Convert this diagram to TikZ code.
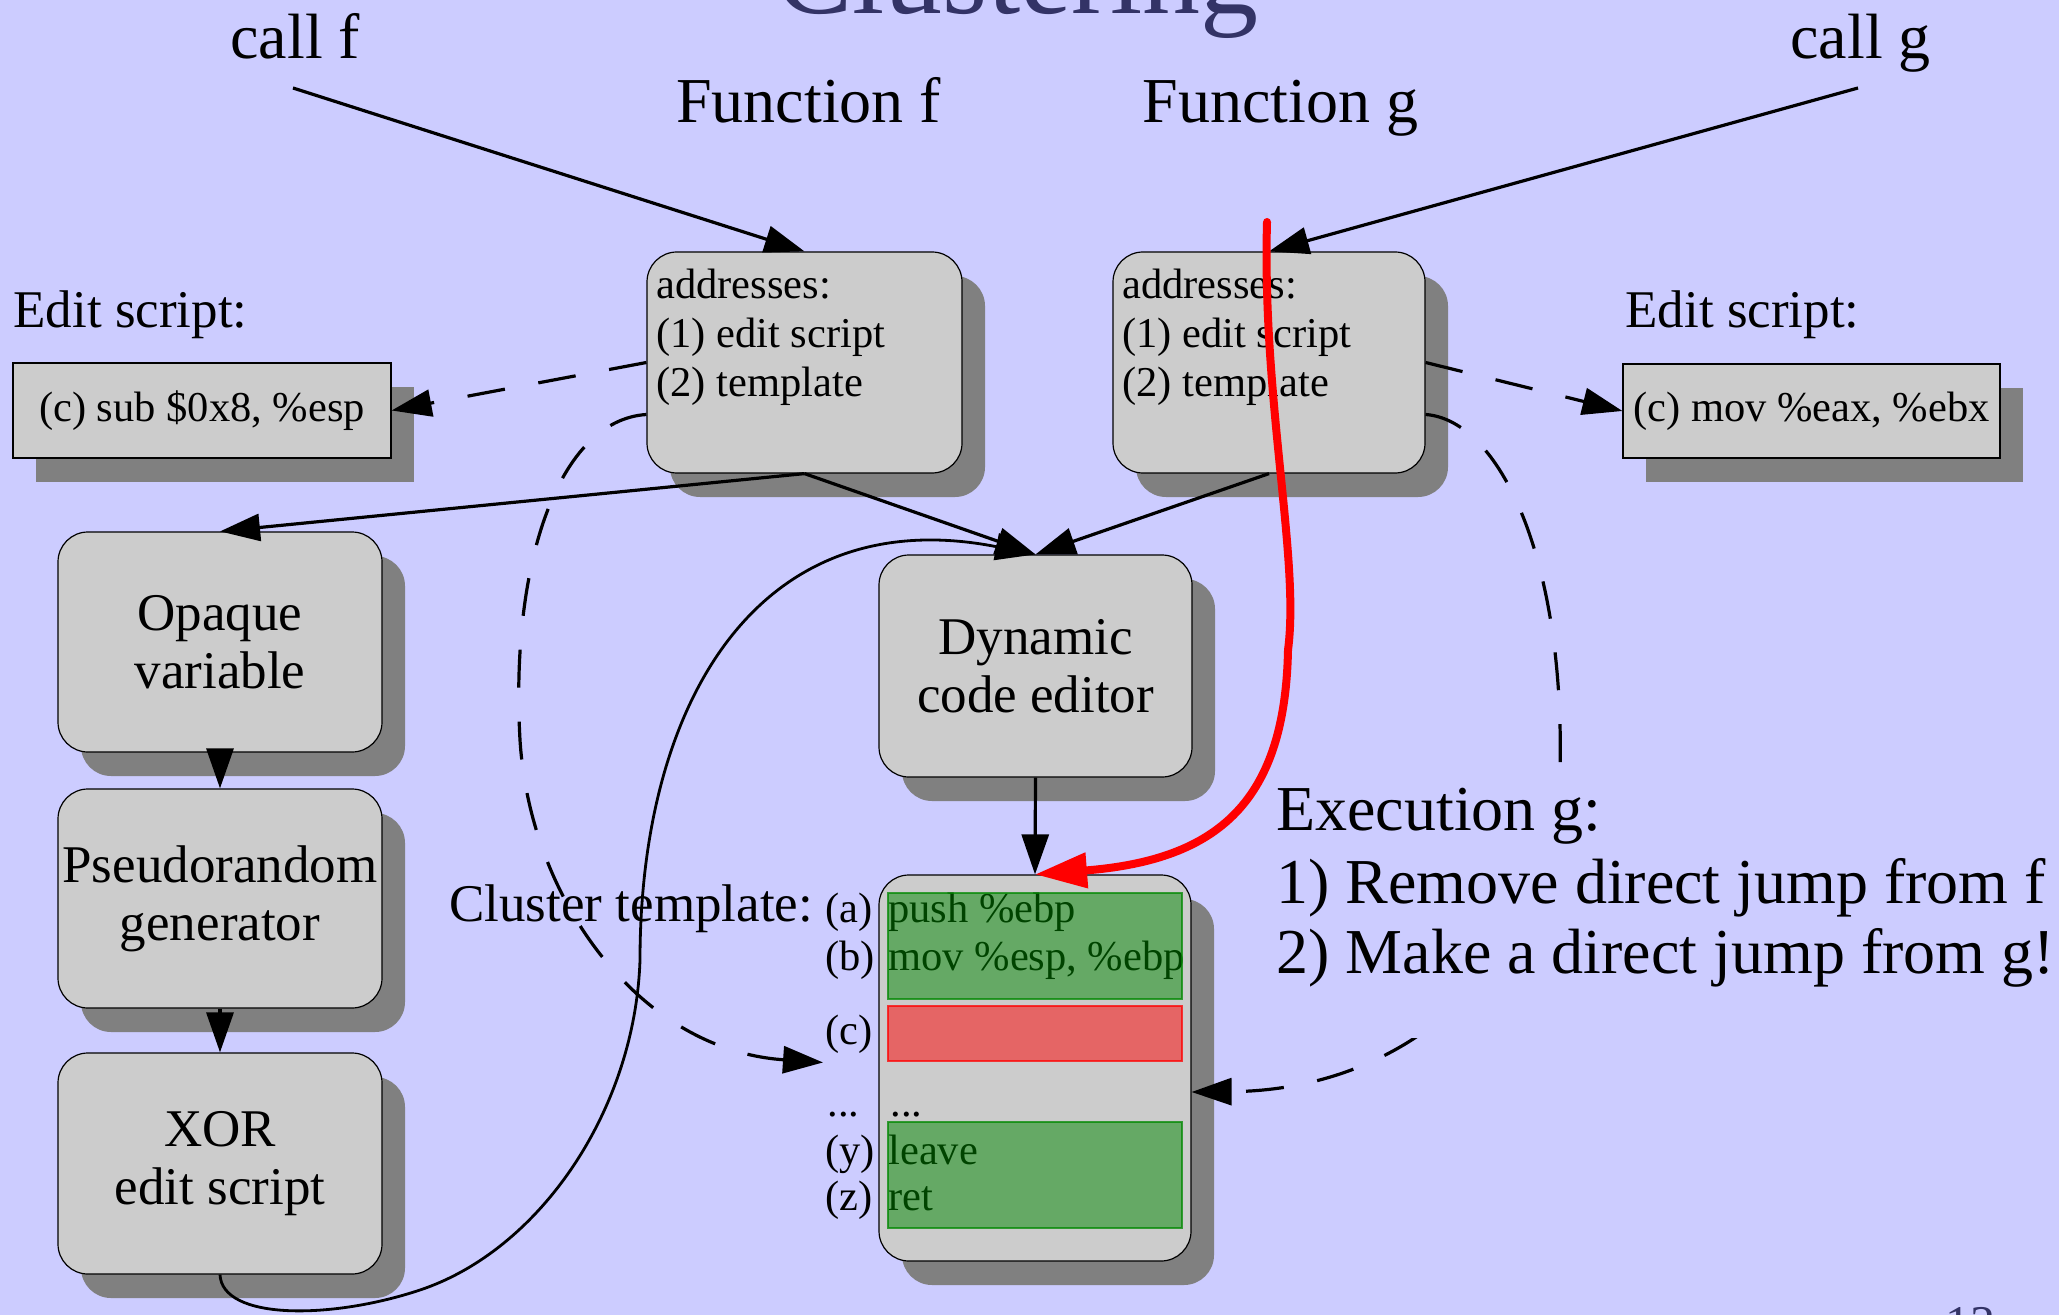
\documentclass[tikz,border=0pt]{standalone}
\usepackage{fontspec}
\setmainfont{Liberation Serif}
\usetikzlibrary{arrows.meta,shadows,calc}

\definecolor{slidebg}{HTML}{CCCCFF}
\definecolor{boxgray}{HTML}{CCCCCC}
\definecolor{shadowgray}{HTML}{808080}
\definecolor{titleblue}{HTML}{333366}
\definecolor{keepgreen}{HTML}{008800}
\definecolor{dropred}{HTML}{FF0000}

\tikzset{
  big/.style={font=\fontsize{32pt}{38pt}\selectfont},
  mid/.style={font=\fontsize{26.5pt}{29pt}\selectfont},
  small/.style={font=\fontsize{21.25pt}{24pt}\selectfont},
  lbl/.style={inner sep=0pt, anchor=base west},
  shade/.style={drop shadow={shadow xshift=11.5pt, shadow yshift=-12pt,
                fill=shadowgray, opacity=1}},
  rbox/.style={draw=black, line width=0.6pt, fill=boxgray,
               rounded corners=15pt, shade, inner sep=0pt},
  ebox/.style={draw=black, line width=0.6pt, fill=boxgray, shade, inner sep=0pt},
  arr/.style={line width=1.6pt, -{Triangle[length=20pt,width=13.5pt]}},
  dsh/.style={arr, dash pattern=on 19pt off 17pt},
  redarr/.style={line width=4pt, draw=dropred, line cap=round,
                 -{Triangle[length=26pt,width=17pt,fill=dropred]}},
  keep/.style={fill=keepgreen, fill opacity=0.5, draw=keepgreen,
               draw opacity=0.75, line width=0.8pt},
  drop/.style={fill=dropred, fill opacity=0.5, draw=dropred,
               draw opacity=0.75, line width=0.8pt},
}

\begin{document}
\begin{tikzpicture}[x=0.5pt,y=-0.5pt]
  % slide background
  \fill[slidebg] (0,0) rectangle (2059,1315);
  \useasboundingbox (0,0) rectangle (2059,1315);

  % title and page number
  \node[inner sep=0pt, anchor=base, text=titleblue,
        font=\fontsize{58pt}{60pt}\selectfont] (title) at (1017,14) {Clustering};
  \node[inner sep=0pt, anchor=north west, text=titleblue,
        font=\fontsize{25pt}{28pt}\selectfont] (pagenum) at (1945,1307) {13};

  % call sites and function names
  \node[lbl,big] (callf) at (230,59) {call f};
  \node[lbl,big] (callg) at (1790,59) {call g};
  \node[lbl,big] (funf) at (676,123) {Function f};
  \node[lbl,big] (fung) at (1142,123) {Function g};
  \coordinate (cf) at (293,88);
  \coordinate (cg) at (1858,88);

  % edit scripts
  \node[lbl,mid] (editl) at (13,328) {Edit script:};
  \node[lbl,mid] (editr) at (1625,328) {Edit script:};
  \node[ebox,small,minimum width=189pt,minimum height=47.5pt] (ebl) at (202,410.5)
       {(c) sub \$0x8, \%esp};
  \node[ebox,small,minimum width=188.5pt,minimum height=47pt] (ebr) at (1811.5,411)
       {(c) mov \%eax, \%ebx};

  % function entry boxes
  \node[rbox,minimum width=157.5pt,minimum height=110.5pt] (bf) at (804.5,362.5) {};
  \node[rbox,minimum width=156pt,minimum height=110.5pt] (bg) at (1269,362.5) {};
  \node[lbl,small] (bf1) at (656,299) {addresses:};
  \node[lbl,small] (bf2) at (656,348) {(1) edit script};
  \node[lbl,small] (bf3) at (656,397) {(2) template};
  \node[lbl,small] (bg1) at (1122,299) {addresses:};
  \node[lbl,small] (bg2) at (1122,348) {(1) edit script};
  \node[lbl,small] (bg3) at (1122,397) {(2) template};

  % decoding pipeline
  \node[rbox,mid,align=center,minimum width=162pt,minimum height=110pt] (opq) at (220,642)
       {Opaque\\variable};
  \node[rbox,mid,align=center,minimum width=162pt,minimum height=109.5pt] (prg) at (220,898.5)
       {Pseudorandom\\generator};
  \node[rbox,mid,align=center,minimum width=162pt,minimum height=110.5pt] (xor) at (220,1163.5)
       {XOR\\edit script};
  \node[rbox,mid,align=center,minimum width=156.5pt,minimum height=111pt] (dyn) at (1035.5,666)
       {Dynamic\\code editor};

  % cluster template
  \node[rbox,minimum width=156pt,minimum height=193pt] (cl) at (1035,1068) {};
  \node[lbl,mid] (clt) at (449,921) {Cluster template:};
  \node[lbl,small] (la) at (825,922) {(a)};
  \node[lbl,small] (lb) at (825,970) {(b)};
  \node[lbl,small] (lc) at (825,1044) {(c)};
  \node[lbl,small] (ld) at (827,1116) {...};
  \node[lbl,small] (ly) at (825,1164) {(y)};
  \node[lbl,small] (lz) at (825,1210) {(z)};
  \node[lbl,small] (ca) at (888,922) {push \%ebp};
  \node[lbl,small] (cb) at (888,970) {mov \%esp, \%ebp};
  \node[lbl,small] (cd) at (890,1116) {...};
  \node[lbl,small] (cy) at (888,1164) {leave};
  \node[lbl,small] (cz) at (888,1210) {ret};
  \draw[keep] (888,893) rectangle (1182,999);
  \draw[drop] (888,1006) rectangle (1182,1061);
  \draw[keep] (888,1122) rectangle (1182,1228);

  % control flow
  \draw[arr] (cf) -- (bf.north);
  \draw[arr] (cg) -- (bg.north);
  \draw[arr] (bf.south) -- (opq.north);
  \draw[arr] (bf.south) -- (dyn.north);
  \draw[arr] (bg.south) -- (dyn.north);
  \draw[arr] (opq.south) -- (prg.north);
  \draw[arr] (prg.south) -- (xor.north);
  \draw[arr] (dyn.south) -- (cl.north);
  \draw[arr, line width=1.4pt] (xor.south)
      .. controls (222,1320) and (330,1320) .. (420,1290)
      .. controls (540,1250) and (635,1110) .. (640,960)
      .. controls (640,700) and (760,500) .. (dyn.north);

  % address lookups
  \draw[dsh] (bf.west) -- (ebl.east);
  \draw[dsh] (bg.east) -- (ebr.west);
  \draw[dsh] ($(bf.west)+(0,52)$)
      .. controls (560,420) and (510,560) .. (520,740)
      .. controls (530,900) and (640,1050) .. ($(lc.south west)+(-2,9)$);
  \draw[dsh] ($(bg.east)+(0,52)$)
      .. controls (1500,420) and (1565,560) .. (1560,770)
      .. controls (1555,950) and (1420,1090) .. ($(cl.east)+(0,24)$);

  % execution notes
  \node[fill=slidebg, inner sep=0pt, minimum width=395.5pt, minimum height=133pt,
        anchor=north west] (execframe) at (1268,772) {};
  \node[lbl,big] (ex1) at (1276,830) {Execution g:};
  \node[lbl,big] (ex2) at (1276,903) {1) Remove direct jump from f};
  \node[lbl,big] (ex3) at (1276,973) {2) Make a direct jump from g!};

  % direct jump from g
  \coordinate (rs) at (1267,222);
  \draw[redarr] (rs) .. controls (1262,400) and (1300,560) .. (1288,650)
      .. controls (1285,800) and (1220,860) .. (cl.north);
\end{tikzpicture}
\end{document}
